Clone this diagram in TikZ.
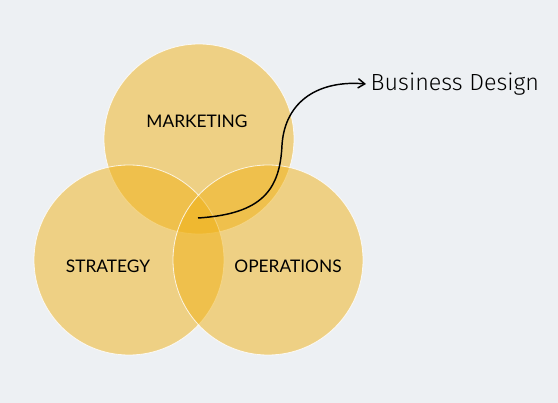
\documentclass[tikz,border=0pt]{standalone}
\usepackage{fontspec}
\setmainfont{Lato}
\newfontfamily\handfont{Fira Sans Light}
\usetikzlibrary{arrows.meta}
\definecolor{bgc}{RGB}{237,240,243}
\definecolor{venn}{RGB}{240,178,22}
\tikzset{
  vcircle/.style={circle, minimum size=142.5pt, inner sep=0pt, fill=venn, fill opacity=0.5, draw=white, draw opacity=0.8, line width=0.6pt},
  vlabel/.style={font=\fontsize{13}{15}\selectfont, text=black},
  hand/.style={font=\handfont\fontsize{17.5}{20}\selectfont, text=black}
}
\begin{document}
\begin{tikzpicture}[x=0.75pt,y=-0.75pt]
\fill[bgc] (0,0) rectangle (558,403);
\useasboundingbox (0,0) rectangle (558,403);
\node[vcircle] (mk) at (199,139) {};
\node[vcircle] (st) at (129,260) {};
\node[vcircle] (op) at (268,260) {};
\node[vlabel] (mkl) at (197,121) {MARKETING};
\node[vlabel] (stl) at (108,266) {STRATEGY};
\node[vlabel] (opl) at (288,266) {OPERATIONS};
\node[hand, anchor=west] (bd) at (366,84) {Business Design};
\coordinate (start) at (198,218);
\draw[line width=1.1pt, -{Straight Barb[length=5pt,width=7pt]}] (start) .. controls (262,214) and (280,190) .. (282,145) .. controls (285,100) and (320,80) .. (bd.west);
\end{tikzpicture}
\end{document}
